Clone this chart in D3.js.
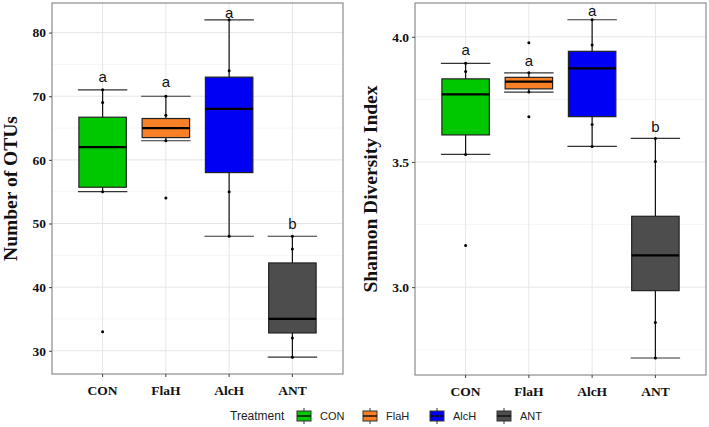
<!DOCTYPE html>
<html>
<head>
<meta charset="utf-8">
<script src="https://cdn.jsdelivr.net/npm/d3@7"></script>
<style>
  body { margin: 0; background: #fff; }
  svg { display: block; }
</style>
</head>
<body>
<svg id="chart" width="709" height="427"></svg>
<script>
// treatments and fill colours
const treatments = ["CON", "FlaH", "AlcH", "ANT"];
const fills = ["#00C800", "#F98026", "#0000F5", "#4D4D4D"];

// Number of OTUs: [whiskerLow, Q1, median, Q3, whiskerHigh]
const otuStats = [
  [55, 55.7, 62, 66.7, 71],
  [63, 63.5, 65, 66.5, 70],
  [48, 58, 68, 73, 82],
  [29, 32.8, 35, 43.8, 48]
];
const otuPoints = [
  [71, 69, 55, 33],
  [70, 67, 63, 54],
  [82, 74, 55, 48],
  [48, 46, 32, 29]
];
const otuLetters = ["a", "a", "a", "b"];
const otuLetterY = [73.1, 72.2, 83.1, 49.9];
const otuTicks = [30, 40, 50, 60, 70, 80];

// Shannon diversity index
const shanStats = [
  [3.530, 3.608, 3.770, 3.832, 3.894],
  [3.779, 3.792, 3.821, 3.838, 3.856],
  [3.562, 3.681, 3.874, 3.942, 4.068],
  [2.717, 2.986, 3.127, 3.283, 3.594]
];
const shanPoints = [
  [3.894, 3.861, 3.530, 3.166],
  [3.976, 3.856, 3.779, 3.681],
  [4.068, 3.967, 3.650, 3.562],
  [3.594, 3.502, 2.859, 2.717]
];
const shanLetters = ["a", "a", "a", "b"];
const shanLetterY = [3.950, 3.905, 4.103, 3.642];
const shanTicks = [3.0, 3.5, 4.0];

const svg = d3.select("#chart");

function panel(opts) {
  const { x0, x1, y0, y1, domain, stats, points, letters, letterY, ticks, fmt, title, titleX } = opts;
  const g = svg.append("g");

  const x = d3.scaleBand().domain(treatments).range([x0, x1]).paddingOuter(0.3).paddingInner(0);
  const y = d3.scaleLinear().domain(domain).range([y1, y0]);
  const bw = x.bandwidth();
  const cx = (d) => x(d) + bw / 2;

  // minor + major grid
  const minor = d3.range(ticks.length - 1).map((i) => (ticks[i] + ticks[i + 1]) / 2);
  const lo = ticks[0] - (ticks[1] - ticks[0]) / 2;
  const hi = ticks[ticks.length - 1] + (ticks[1] - ticks[0]) / 2;
  minor.unshift(lo); minor.push(hi);
  g.selectAll(".minor").data(minor.filter((v) => v > domain[0] && v < domain[1]))
    .join("line")
    .attr("x1", x0).attr("x2", x1)
    .attr("y1", (d) => y(d)).attr("y2", (d) => y(d))
    .attr("stroke", "#f0f0f0").attr("stroke-width", 0.6);
  g.selectAll(".major").data(ticks)
    .join("line")
    .attr("x1", x0).attr("x2", x1)
    .attr("y1", (d) => y(d)).attr("y2", (d) => y(d))
    .attr("stroke", "#e6e6e6").attr("stroke-width", 1);
  g.selectAll(".vgrid").data(treatments)
    .join("line")
    .attr("x1", cx).attr("x2", cx)
    .attr("y1", y0).attr("y2", y1)
    .attr("stroke", "#e6e6e6").attr("stroke-width", 1);

  const hw = bw * 0.375;
  const items = treatments.map((t, i) => ({ t, s: stats[i], c: fills[i], p: points[i], l: letters[i], ly: letterY[i] }));

  // error bar whiskers
  items.forEach((d) => {
    g.append("line").attr("x1", cx(d.t)).attr("x2", cx(d.t))
      .attr("y1", y(d.s[0])).attr("y2", y(d.s[4]))
      .attr("stroke", "#111").attr("stroke-width", 1.2);
    [d.s[0], d.s[4]].forEach((v) => {
      g.append("line").attr("x1", cx(d.t) - hw - 1).attr("x2", cx(d.t) + hw + 1)
        .attr("y1", y(v)).attr("y2", y(v))
        .attr("stroke", "#333").attr("stroke-width", 1.2);
    });
  });

  // boxes
  g.selectAll(".box").data(items)
    .join("rect")
    .attr("x", (d) => cx(d.t) - hw)
    .attr("width", hw * 2)
    .attr("y", (d) => y(d.s[3]))
    .attr("height", (d) => y(d.s[1]) - y(d.s[3]))
    .attr("fill", (d) => d.c)
    .attr("stroke", "#222").attr("stroke-width", 1.2);
  g.selectAll(".med").data(items)
    .join("line")
    .attr("x1", (d) => cx(d.t) - hw).attr("x2", (d) => cx(d.t) + hw)
    .attr("y1", (d) => y(d.s[2])).attr("y2", (d) => y(d.s[2]))
    .attr("stroke", "#000").attr("stroke-width", 2.2);

  // raw points
  items.forEach((d) => {
    g.selectAll(null).data(d.p).join("circle")
      .attr("cx", cx(d.t)).attr("cy", (v) => y(v))
      .attr("r", 1.5).attr("fill", "#000");
  });

  // letters
  g.selectAll(".letter").data(items)
    .join("text")
    .attr("x", (d) => cx(d.t)).attr("y", (d) => y(d.ly))
    .attr("dy", "0.35em")
    .attr("text-anchor", "middle")
    .style("font-family", "'Liberation Sans', Arial, sans-serif")
    .style("font-size", "15px")
    .attr("fill", "#111")
    .text((d) => d.l);

  // border
  g.append("rect").attr("x", x0).attr("y", y0)
    .attr("width", x1 - x0).attr("height", y1 - y0)
    .attr("fill", "none").attr("stroke", "#8c8c8c").attr("stroke-width", 1.2);

  // axes
  const yAxis = g.append("g").attr("transform", `translate(${x0},0)`)
    .call(d3.axisLeft(y).tickValues(ticks).tickFormat(fmt).tickSize(3).tickPadding(3));
  const xAxis = g.append("g").attr("transform", `translate(0,${y1})`)
    .call(d3.axisBottom(x).tickSize(3).tickPadding(8));
  [yAxis, xAxis].forEach((a) => {
    a.select(".domain").remove();
    a.selectAll("line").attr("stroke", "#444");
    a.selectAll("text")
      .style("font-family", "'Liberation Serif', 'Times New Roman', serif")
      .style("font-weight", "bold")
      .style("font-size", "13.5px")
      .attr("fill", "#111");
  });

  g.append("text")
    .attr("transform", `translate(${titleX},${(y0 + y1) / 2}) rotate(-90)`)
    .attr("text-anchor", "middle")
    .attr("dy", "0.35em")
    .style("font-family", "'Liberation Serif', 'Times New Roman', serif")
    .style("font-weight", "bold")
    .style("font-size", "19.5px")
    .attr("fill", "#111")
    .text(title);
}

panel({
  x0: 52, x1: 343, y0: 3, y1: 374,
  domain: [26.35, 84.65],
  stats: otuStats, points: otuPoints, letters: otuLetters, letterY: otuLetterY,
  ticks: otuTicks, fmt: d3.format("d"),
  title: "Number of OTUs", titleX: 10
});

panel({
  x0: 415, x1: 706, y0: 3, y1: 375,
  domain: [2.649, 4.135],
  stats: shanStats, points: shanPoints, letters: shanLetters, letterY: shanLetterY,
  ticks: shanTicks, fmt: d3.format(".1f"),
  title: "Shannon Diversity Index", titleX: 370
});

// legend
const legend = svg.append("g").attr("transform", "translate(0,416)");
legend.append("text").attr("x", 230).attr("y", 0).attr("dy", "0.35em")
  .style("font-family", "'Liberation Sans', Arial, sans-serif")
  .style("font-size", "12px").attr("fill", "#222")
  .text("Treatment");
const legX = [297, 363, 430, 497];
const keys = legend.selectAll(".key").data(treatments).join("g")
  .attr("transform", (d, i) => `translate(${legX[i]},0)`);
keys.append("line").attr("x1", 7).attr("x2", 7).attr("y1", -8).attr("y2", 8)
  .attr("stroke", "#333").attr("stroke-width", 1);
keys.append("rect").attr("x", 0).attr("y", -5).attr("width", 14).attr("height", 10)
  .attr("fill", (d, i) => fills[i]).attr("stroke", "#333").attr("stroke-width", 1);
keys.append("line").attr("x1", 0).attr("x2", 14).attr("y1", 0).attr("y2", 0)
  .attr("stroke", "#111").attr("stroke-width", 1.5);
keys.append("text").attr("x", 23).attr("y", 0).attr("dy", "0.35em")
  .style("font-family", "'Liberation Sans', Arial, sans-serif")
  .style("font-size", "11px").attr("fill", "#222")
  .text((d) => d);
</script>
</body>
</html>
